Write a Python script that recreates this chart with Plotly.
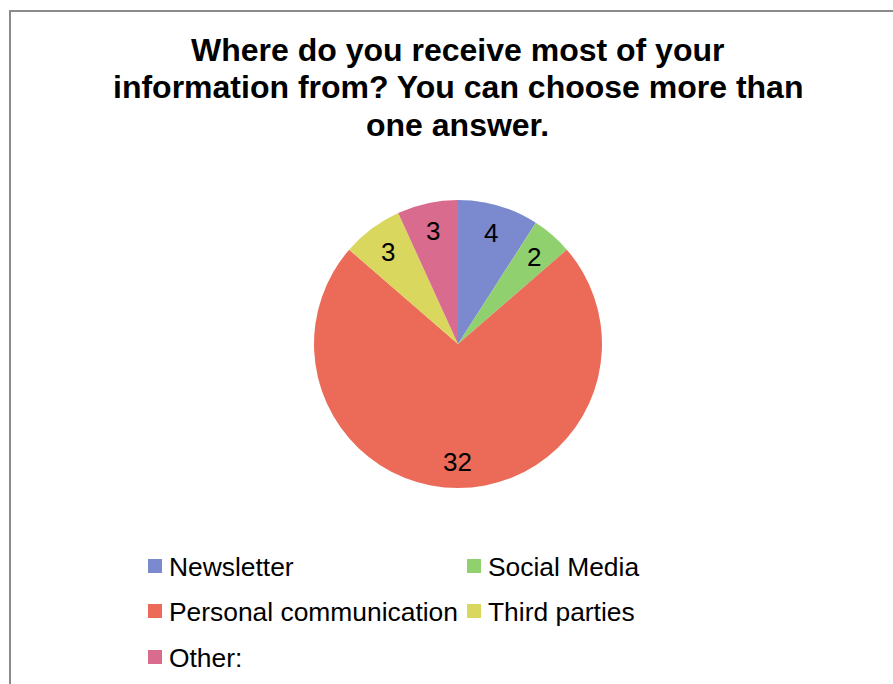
import math
import plotly.graph_objects as go

# Survey answers
categories = ["Newsletter", "Social Media", "Personal communication", "Third parties", "Other:"]
counts = [4, 2, 32, 3, 3]
colors = ["#7B89CE", "#90D06F", "#EB6B58", "#D9D75D", "#D96B8E"]
title_lines = [
    "Where do you receive most of your",
    "information from? You can choose more than",
    "one answer.",
]

W, H = 893, 684
FONT = "Liberation Sans, Arial, sans-serif"

# pie geometry (pixels)
cx, cy, r = 458, 344, 144
dom_x = [(cx - r) / W, (cx + r) / W]
dom_y = [1 - (cy + r) / H, 1 - (cy - r) / H]


def px(x):
    return x / W


def py(y):
    return 1 - y / H


fig = go.Figure(
    go.Pie(
        labels=categories,
        values=counts,
        sort=False,
        direction="clockwise",
        rotation=0,
        marker=dict(colors=colors, line=dict(width=0)),
        textinfo="none",
        hoverinfo="label+value",
        domain=dict(x=dom_x, y=dom_y),
        showlegend=False,
    )
)

annotations = []
shapes = []

# value labels placed inside each slice, at 80% of the radius along the mid-angle
total = sum(counts)
cum = 0
for v in counts:
    mid = (cum + v / 2) / total * 2 * math.pi
    cum += v
    lx = cx + 0.81 * r * math.sin(mid)
    ly = cy - 0.81 * r * math.cos(mid)
    annotations.append(dict(
        x=px(lx), y=py(ly + 1), xref="paper", yref="paper",
        text=str(v), showarrow=False,
        font=dict(family=FONT, size=26, color="#000000"),
        xanchor="center", yanchor="middle",
    ))

# title, one line per annotation
for i, line in enumerate(title_lines):
    annotations.append(dict(
        x=px(458), y=py(50 + 37.5 * i), xref="paper", yref="paper",
        text=f"<b>{line}</b>", showarrow=False,
        font=dict(family=FONT, size=32, color="#000000"),
        xanchor="center", yanchor="middle",
    ))

# legend: two columns, square swatch followed by the label
col_x = [148, 467]
row_y = [566, 611, 657]
sw = 14
for i, (name, col) in enumerate(zip(categories, colors)):
    x0 = col_x[i % 2]
    yc = row_y[i // 2]
    shapes.append(dict(
        type="rect", xref="paper", yref="paper",
        x0=px(x0), x1=px(x0 + sw), y0=py(yc + sw / 2), y1=py(yc - sw / 2),
        line=dict(width=0), fillcolor=col,
    ))
    annotations.append(dict(
        x=px(x0 + sw + 5), y=py(yc + 1), xref="paper", yref="paper",
        text=name, showarrow=False,
        font=dict(family=FONT, size=26.4, color="#000000"),
        xanchor="left", yanchor="middle",
    ))

# chart frame
shapes.append(dict(
    type="rect", xref="paper", yref="paper",
    x0=px(10), y0=-0.1, x1=1.1, y1=py(11),
    line=dict(color="#8A8A8A", width=2),
    fillcolor="rgba(0,0,0,0)", layer="above",
))

fig.update_layout(
    width=W, height=H,
    margin=dict(l=0, r=0, t=0, b=0),
    paper_bgcolor="#FFFFFF",
    plot_bgcolor="#FFFFFF",
    annotations=annotations,
    shapes=shapes,
    showlegend=False,
)

fig.write_html("out.html")
